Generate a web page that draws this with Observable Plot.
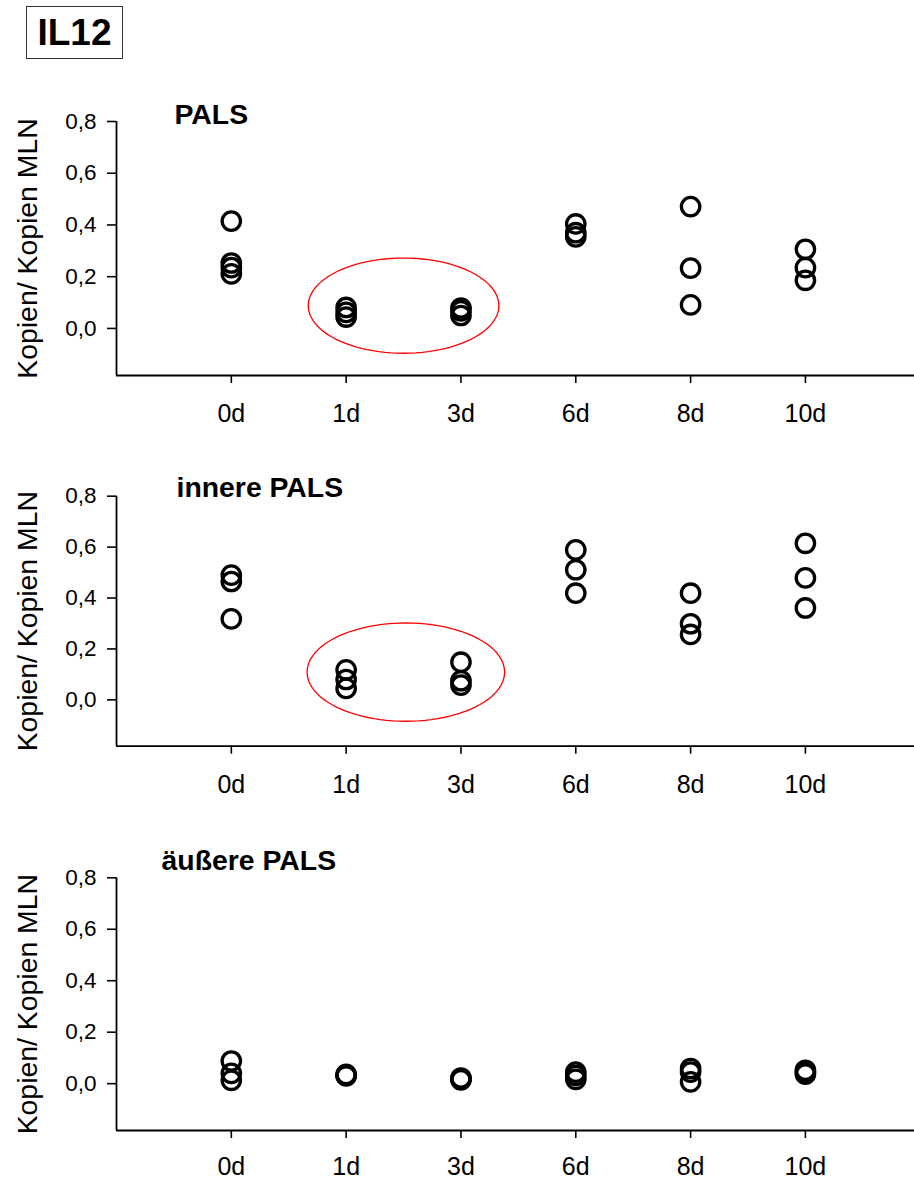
<!DOCTYPE html>
<html><head><meta charset="utf-8">
<script src="https://cdn.jsdelivr.net/npm/d3@7"></script>
<script src="https://cdn.jsdelivr.net/npm/@observablehq/plot@0.6"></script>
<style>
body{margin:0;background:#fff;font-family:"Liberation Sans",Arial,sans-serif;}
#root{position:relative;width:914px;height:1180px;overflow:hidden;background:#fff;}
.panel{position:absolute;left:0;}
#tag{position:absolute;left:26px;top:6px;width:97px;height:53px;box-sizing:border-box;border:1.5px solid #333;font-weight:bold;font-size:37px;text-align:center;line-height:51px;color:#000;z-index:2;}
</style></head>
<body><div id="root"><div id="tag">IL12</div></div>
<script>
// ---- data ----
const days = ["0d", "1d", "3d", "6d", "8d", "10d"];
const yTicks = [0, 0.2, 0.4, 0.6, 0.8];
const panelTitles = ["PALS", "innere PALS", "äußere PALS"];
const yLabel = "Kopien/ Kopien MLN";
// replicate values per day (0d,1d,3d,6d,8d,10d)
const palsValues = [[0.415, 0.253, 0.235, 0.211], [0.081, 0.062, 0.044], [0.079, 0.068, 0.05], [0.404, 0.37, 0.354], [0.471, 0.233, 0.091], [0.306, 0.235, 0.186]];
const innereValues = [[0.49, 0.465, 0.318], [0.118, 0.08, 0.045], [0.148, 0.075, 0.058], [0.589, 0.511, 0.419], [0.419, 0.299, 0.257], [0.615, 0.479, 0.361]];
const aeussereValues = [[0.088, 0.04, 0.013], [0.036, 0.033, 0.03], [0.022, 0.018, 0.015], [0.045, 0.032, 0.017], [0.059, 0.045, 0.007], [0.052, 0.045, 0.037]];
// red highlight ellipses (data units: center day-index, center value, radii)
const highlightPals = {cx: 1.5, cy: 0.088, rx: 0.83, ry: 0.184};
const highlightInnere = {cx: 1.52, cy: 0.109, rx: 0.86, ry: 0.193};

const yMin = -0.182;
const panels = [
  {title: panelTitles[0], values: palsValues, ell: highlightPals, top: 80, mt: 41, ph: 254, mb: 70, tdx: 58, tdy: -7, tp: 21},
  {title: panelTitles[1], values: innereValues, ell: highlightInnere, top: 450, mt: 45.7, ph: 250, mb: 70, tdx: 60, tdy: -8.7, tp: 21},
  {title: panelTitles[2], values: aeussereValues, ell: null, top: 820, mt: 57.3, ph: 252.7, mb: 50, tdx: 45, tdy: -17.3, tp: 19}
];

const font = '"Liberation Sans", Arial, sans-serif';
const root = document.getElementById("root");

for (const p of panels) {
  const data = p.values.flatMap((vals, i) => vals.map(v => ({day: i, value: v})));
  const marks = [
    Plot.axisX({ticks: d3.range(days.length), tickFormat: i => days[i], tickSize: 8, tickPadding: p.tp, fontSize: 25, label: null, strokeWidth: 1.6}),
    Plot.axisY({ticks: yTicks, tickFormat: v => v.toFixed(1).replace(".", ","), tickSize: 9, tickPadding: 11, fontSize: 22.5, label: null, strokeWidth: 1.6}),
    Plot.ruleX([-1], {stroke: "#000", strokeWidth: 1.8}),
    Plot.ruleY([yMin], {stroke: "#000", strokeWidth: 1.8})
  ];
  if (p.ell) {
    const e = p.ell;
    const pts = d3.range(0, 97).map(k => {
      const t = k / 96 * 2 * Math.PI;
      return {x: e.cx + e.rx * Math.cos(t), y: e.cy + e.ry * Math.sin(t)};
    });
    marks.push(Plot.line(pts, {x: "x", y: "y", stroke: "#ff0000", strokeWidth: 1.3}));
  }
  marks.push(Plot.dot(data, {x: "day", y: "value", r: 9.2, stroke: "#000", strokeWidth: 3.3, fill: "none"}));
  marks.push(Plot.text([p.title], {frameAnchor: "top-left", dx: p.tdx, dy: p.tdy, textAnchor: "start", lineAnchor: "middle", fontWeight: "bold", fontSize: 28.4, fill: "#000"}));
  marks.push(Plot.text([yLabel], {frameAnchor: "left", rotate: -90, dx: -89, textAnchor: "middle", lineAnchor: "middle", fontSize: 28.4, fill: "#000"}));

  const chart = Plot.plot({
    width: 914,
    height: p.mt + p.ph + p.mb,
    marginLeft: 116, marginRight: 0, marginTop: p.mt, marginBottom: p.mb,
    x: {domain: [-1, 5.95]},
    y: {domain: [yMin, 0.8]},
    style: {fontFamily: font, color: "#000", background: "transparent", overflow: "visible"},
    marks
  });
  chart.classList.add("panel");
  chart.style.top = p.top + "px";
  root.appendChild(chart);
}
</script>
</body></html>
